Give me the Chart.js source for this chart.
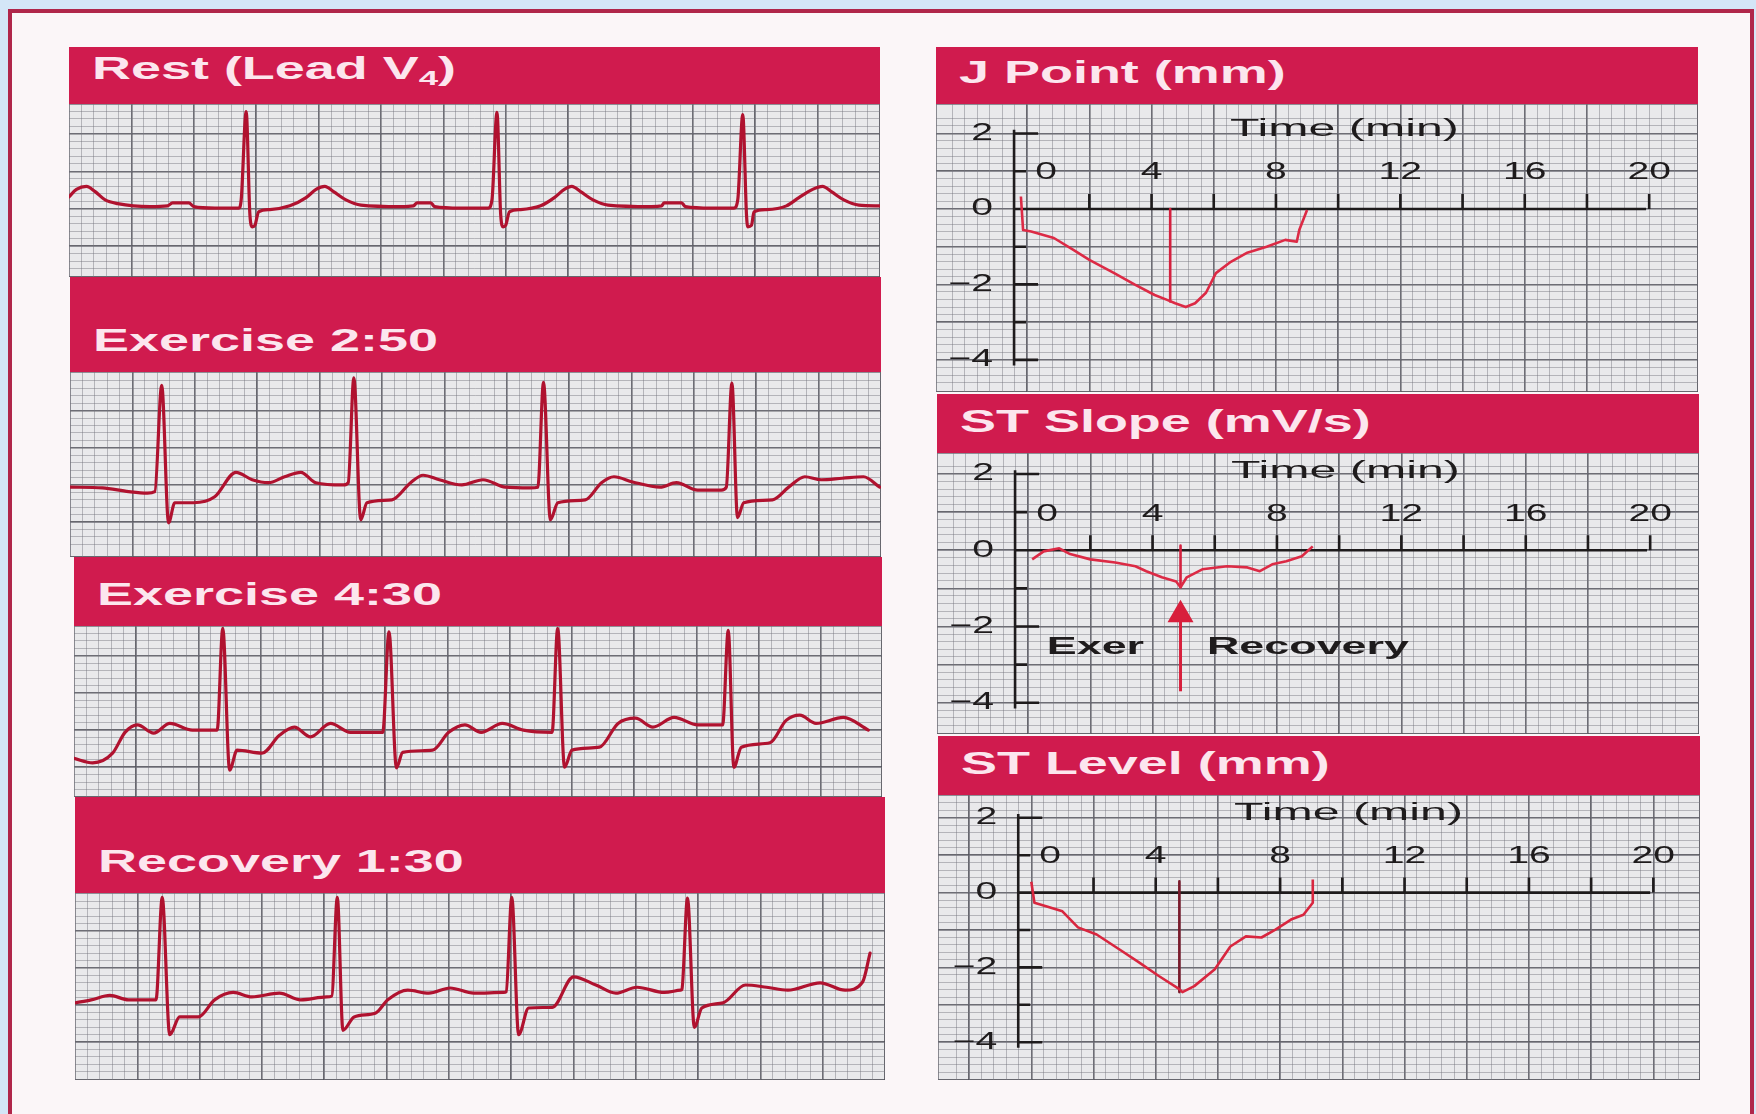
<!DOCTYPE html>
<html lang="en">
<head>
<meta charset="UTF-8" />
<title>Exercise ECG - J Point, ST Slope and ST Level</title>
<script src="https://cdn.jsdelivr.net/npm/chart.js"></script>
<style>
  html, body { margin: 0; width: 1756px; height: 1114px; overflow: hidden; background: #d4e6f7; font-family: "Liberation Sans", Arial, sans-serif; }
  #frame { position: absolute; left: 8px; top: 9px; width: 1746px; height: 1110px; box-sizing: border-box;
           background: #fbf6f8; border: 4px solid #b0264a; border-bottom: none; }
  .head { position: absolute; box-sizing: border-box; background: #d01b4e; color: #fce6ee; font-weight: bold;
          font-size: 31px; line-height: 1; padding: 0 0 16px 23px; display: flex; align-items: flex-end; overflow: hidden; }
  .head span { display: inline-block; white-space: nowrap; transform: scaleX(1.74); transform-origin: left bottom; }
  .head sub { font-size: 20px; vertical-align: -6px; }
  .paper { position: absolute; background: #e9e9eb; }
</style>
</head>
<body>
<div id="frame"></div>
<script>
// ---- ECG strips: x = mm of paper (25 mm/s), y = mm (10 mm/mV) ----
const restX = [0, 0.6, 1.4, 2.1, 2.9, 3.9, 6.5, 7.9, 8.3, 9.6, 10.0, 11.7, 13.6, 13.8, 14.2, 14.5, 14.7, 14.9, 15.2, 16.1, 17.7, 19.0, 19.8, 20.5, 21.2, 22.2, 23.4, 26.6, 27.6, 27.9, 29.0, 29.3, 31.4, 33.6, 33.9, 34.3, 34.6, 34.8, 35.0, 35.3, 36.2, 37.8, 38.9, 39.7, 40.3, 41.0, 42.0, 43.2, 46.7, 47.5, 47.7, 49.1, 49.4, 51.5, 53.3, 53.6, 54.0, 54.3, 54.4, 54.7, 54.9, 55.9, 57.5, 58.5, 59.6, 60.4, 61.1, 62.1, 63.3, 65.0];
const restY = [1.6, 2.6, 3.0, 2.3, 1.2, 0.7, 0.3, 0.4, 0.8, 0.8, 0.3, 0.1, 0.1, 1.2, 13.0, -0.8, -2.4, -2.2, -0.4, -0.1, 0.4, 1.5, 2.6, 3.0, 2.3, 1.2, 0.5, 0.3, 0.4, 0.8, 0.8, 0.3, 0.1, 0.1, 1.2, 12.9, -0.8, -2.4, -2.2, -0.4, -0.1, 0.4, 1.5, 2.6, 3.0, 2.3, 1.2, 0.5, 0.3, 0.4, 0.8, 0.8, 0.3, 0.1, 0.1, 1.2, 12.6, -0.8, -2.4, -2.2, -0.4, -0.1, 0.4, 1.5, 2.6, 3.0, 2.3, 1.2, 0.5, 0.4];

const ex250X = [0, 2.6, 4.7, 6.2, 6.8, 7.35, 7.9, 8.4, 9.9, 11.6, 13.3, 14.6, 15.9, 17.2, 18.5, 19.7, 21.9, 22.3, 22.75, 23.3, 23.8, 25.8, 27.3, 28.3, 29.6, 31.4, 33.1, 34.9, 36.9, 37.5, 37.95, 38.5, 39.1, 41.3, 42.6, 43.6, 45.1, 47.3, 48.6, 50.3, 52.2, 52.6, 53.05, 53.5, 54.0, 56.3, 57.6, 58.9, 60.2, 61.9, 63.6, 64.9];
const ex250Y = [-0.3, -0.4, -0.9, -1.1, -0.9, 13.4, -5.1, -2.4, -2.4, -1.6, 1.7, 0.7, 0.3, 1.1, 1.7, 0.3, 0, 0.3, 14.4, -4.7, -2.4, -2.0, 0.3, 1.3, 0.7, 0, 0.7, -0.3, -0.4, -0.3, 13.8, -4.7, -2.4, -2.0, 0.3, 1.1, 0.4, -0.3, 0.3, -0.7, -0.7, -0.3, 13.7, -4.4, -2.4, -2.0, -0.3, 1.1, 0.7, 0.9, 1.1, -0.3];

const ex430X = [0, 1.5, 3.1, 4.1, 5.1, 6.4, 7.7, 9.5, 11.5, 11.95, 12.5, 13.1, 15.1, 16.5, 17.7, 19.0, 20.6, 22.2, 24.8, 25.3, 25.9, 26.4, 28.8, 30.1, 31.4, 32.7, 34.4, 36.1, 38.4, 38.85, 39.4, 40.0, 42.2, 43.7, 45.1, 46.5, 48.2, 50.1, 52.1, 52.55, 53.0, 53.6, 55.9, 57.2, 58.3, 59.6, 61.8, 63.8];
const ex430Y = [-3.8, -4.4, -3.1, -0.3, 0.7, -0.4, 0.9, 0, 0, 13.7, -5.4, -2.7, -3.1, -0.7, 0.4, -0.9, 0.9, -0.3, -0.3, 13.2, -5.1, -3.0, -2.7, -0.3, 0.7, -0.3, 0.9, 0, -0.3, 13.7, -5.0, -2.7, -2.3, 0.9, 1.6, 0.4, 1.7, 0.7, 0.7, 13.4, -5.0, -2.3, -1.7, 1.3, 2.0, 0.9, 1.7, 0];

const rec130X = [0, 1.3, 2.8, 4.3, 6.5, 7.0, 7.6, 8.4, 9.9, 11.2, 12.7, 14.2, 16.4, 18.1, 20.2, 20.6, 21.05, 21.5, 22.4, 24.1, 25.1, 26.7, 28.4, 30.1, 32.0, 34.4, 34.6, 35.05, 35.6, 36.4, 38.3, 40.0, 41.8, 43.4, 45.1, 47.3, 48.6, 48.7, 49.15, 49.7, 50.3, 52.0, 53.8, 55.5, 57.2, 59.8, 61.8, 63.2, 63.8];
const rec130Y = [0.3, 0.7, 1.3, 0.7, 0.7, 14.5, -4.0, -1.6, -1.6, 0.7, 1.7, 1.1, 1.6, 0.7, 1.1, 1.2, 14.5, -3.4, -1.6, -1.1, 0.7, 2.0, 1.6, 2.3, 1.6, 1.7, 1.8, 14.5, -4.0, -0.4, -0.3, 3.8, 2.7, 1.6, 2.4, 1.7, 2.0, 2.1, 14.4, -3.0, -0.4, 0.3, 2.7, 2.4, 2.0, 3.0, 2.0, 3.1, 7.0];

// ---- trend plots: x = time (min) ----
const jTime  = [-0.2, -0.13, 0.13, 0.86, 1.5, 2.0, 2.8, 3.45, 4.1, 4.5, 4.76, 5.1, 5.4, 5.75, 6.07, 6.55, 7.05, 7.7, 8.3, 8.67, 8.75, 9.0];
const jMm    = [0.33, -0.56, -0.6, -0.77, -1.09, -1.35, -1.7, -2.0, -2.28, -2.41, -2.5, -2.6, -2.5, -2.22, -1.7, -1.4, -1.17, -1.0, -0.82, -0.87, -0.56, -0.03];
const jMarkT = [4.6, 4.6];
const jMarkV = [0, -2.45];

const slopeTime  = [0.13, 0.5, 1.0, 1.35, 2.0, 2.8, 3.45, 3.8, 4.3, 4.76, 4.9, 5.1, 5.6, 6.4, 7.05, 7.45, 7.85, 8.3, 8.8, 9.15];
const slopeMvS   = [-0.24, -0.03, 0.05, -0.1, -0.24, -0.32, -0.42, -0.55, -0.71, -0.82, -0.97, -0.71, -0.5, -0.42, -0.45, -0.55, -0.37, -0.29, -0.16, 0.1];
const slopeMarkT = [4.9, 4.9];
const slopeMarkV = [0.12, -0.97];
const arrowT = [4.9, 4.9];
const arrowV = [-3.7, -1.69];

const levelTime  = [0, 0.1, 0.5, 1.0, 1.5, 2.1, 2.8, 3.45, 4.1, 4.76, 4.86, 5.24, 5.9, 6.4, 6.9, 7.4, 7.85, 8.35, 8.75, 9.05, 9.05];
const levelMm    = [0.29, -0.27, -0.37, -0.5, -0.93, -1.12, -1.5, -1.86, -2.23, -2.58, -2.66, -2.5, -2.05, -1.44, -1.17, -1.2, -0.99, -0.72, -0.59, -0.27, 0.35];
const levelMarkT = [4.76, 4.76];
const levelMarkV = [0.3, -2.66];

const timeLabels  = [0, 4, 8, 12, 16, 20];
const timeMarks   = [2, 4, 6, 8, 10, 12, 14, 16, 18, 20];
const valueLabels = [2, 0, -2, -4];
const valueMarks  = [2, 1, -1, -2, -3, -4];

const zip = (xs, ys) => xs.map((x, i) => ({ x, y: ys[i] }));
const FONT = '"Liberation Sans", Arial, sans-serif';

function makePanel(title, left, top, width, headH, paperH) {
  const head = document.createElement('div');
  head.className = 'head';
  head.style.cssText = `left:${left}px;top:${top}px;width:${width}px;height:${headH}px`;
  head.innerHTML = `<span>${title}</span>`;
  document.body.appendChild(head);
  const paper = document.createElement('div');
  paper.className = 'paper';
  paper.style.cssText = `left:${left}px;top:${top + headH}px;width:${width}px;height:${paperH}px`;
  const canvas = document.createElement('canvas');
  paper.appendChild(canvas);
  document.body.appendChild(paper);
  return canvas;
}

// graph paper: major + minor grids from four linear scales
function paperScales(xMin, xMax, xStep, yMin, yMax, yStep) {
  const scale = (axis, min, max, step, major) => ({
    type: 'linear', axis, min, max, display: true, z: major ? -1 : -2,
    ticks: { display: false, stepSize: step, autoSkip: false },
    grid: { drawTicks: false, color: major ? 'rgba(80,80,88,0.85)' : 'rgba(115,115,125,0.45)', lineWidth: major ? 1.6 : 1 },
    border: { display: false }
  });
  return {
    x: scale('x', xMin, xMax, xStep, true),
    y: scale('y', yMin, yMax, yStep, true),
    xm: scale('x', xMin, xMax, xStep / 5, false),
    ym: scale('y', yMin, yMax, yStep / 5, false)
  };
}

function baseOptions(scales) {
  return {
    responsive: true, maintainAspectRatio: false, animation: false, devicePixelRatio: 1, events: [],
    layout: { padding: 0, autoPadding: false },
    plugins: { legend: { display: false }, tooltip: { enabled: false }, title: { display: false } },
    scales
  };
}

function stretchText(ctx, text, x, y, sx, align) {
  ctx.save();
  ctx.translate(x, y);
  ctx.scale(sx, 1);
  ctx.textAlign = align;
  ctx.fillText(text, 0, 0);
  ctx.restore();
}

const fmt = v => (v < 0 ? '\u2212' + (-v) : String(v));

// black axes drawn on the paper at value 0 / time -0.42
function axesPlugin(cfg) {
  return {
    id: 'paperAxes',
    beforeDatasetsDraw(chart) {
      const { ctx, scales: { x, y } } = chart;
      const ax = x.getPixelForValue(cfg.axisAt);
      const ay = y.getPixelForValue(0);
      ctx.save();
      ctx.strokeStyle = '#1e1b1c';
      ctx.lineWidth = 2.6;
      ctx.beginPath();
      ctx.moveTo(ax, y.getPixelForValue(cfg.top));
      ctx.lineTo(ax, y.getPixelForValue(cfg.bottom));
      ctx.moveTo(ax, ay);
      ctx.lineTo(x.getPixelForValue(cfg.end), ay);
      valueMarks.forEach(v => {
        const py = y.getPixelForValue(v);
        ctx.moveTo(ax, py);
        ctx.lineTo(ax + (v % 2 === 0 ? 24 : 12), py);
      });
      timeMarks.forEach(t => {
        const px = x.getPixelForValue(t);
        ctx.moveTo(px, ay);
        ctx.lineTo(px, ay - 15);
      });
      ctx.stroke();
      ctx.fillStyle = '#1e1b1c';
      ctx.textBaseline = 'middle';
      ctx.font = `23px ${FONT}`;
      valueLabels.forEach(v => stretchText(ctx, fmt(v), ax - 21, y.getPixelForValue(v), 1.7, 'right'));
      timeLabels.forEach(t => stretchText(ctx, String(t), Math.max(x.getPixelForValue(t), ax + 32), ay - 36, 1.7, 'center'));
      stretchText(ctx, 'Time (min)', x.getPixelForValue(10.2), ay - 79, 2.1, 'center');
      ctx.font = `bold 23px ${FONT}`;
      (cfg.notes || []).forEach(n => stretchText(ctx, n.text, x.getPixelForValue(n.x), y.getPixelForValue(n.y), 1.95, 'left'));
      ctx.restore();
    }
  };
}

// ---- ECG strips ----
const strips = [
  { title: 'Rest (Lead V<sub>4</sub>)', box: [69, 47, 811, 57, 173], xs: restX, ys: restY, x: 65, y: [-9.1, 14.0] },
  { title: 'Exercise 2:50', box: [70, 277, 811, 95, 185], xs: ex250X, ys: ex250Y, x: 65, y: [-9.7, 15.2] },
  { title: 'Exercise 4:30', box: [74, 557, 808, 69, 171], xs: ex430X, ys: ex430Y, x: 64.9, y: [-9.0, 14.0] },
  { title: 'Recovery 1:30', box: [75, 797, 810, 96, 187], xs: rec130X, ys: rec130Y, x: 65, y: [-10.1, 15.1] }
];

strips.forEach(s => {
  const canvas = makePanel(s.title, ...s.box);
  new Chart(canvas, {
    type: 'line',
    data: { datasets: [{
      data: zip(s.xs, s.ys), xAxisID: 'x', yAxisID: 'y',
      borderColor: '#b0122f', borderWidth: 3.2, pointRadius: 0, cubicInterpolationMode: 'monotone',
      borderJoinStyle: 'round', borderCapStyle: 'round'
    }] },
    options: baseOptions(paperScales(0, s.x, 5, s.y[0], s.y[1], 5))
  });
});

// ---- trend plots ----
const lineStyle = color => ({ borderColor: color, borderWidth: 2.6, pointRadius: 0, tension: 0, xAxisID: 'x', yAxisID: 'y', borderJoinStyle: 'round' });

const trends = [
  { title: 'J Point (mm)', box: [936, 47, 762, 57, 288], x: [-2.93, 21.57], y: [-4.85, 2.78],
    sets: [
      { data: zip(jTime, jMm), ...lineStyle('#dc2a45') },
      { data: zip(jMarkT, jMarkV), ...lineStyle('#d4203e') }
    ] },
  { title: 'ST Slope (mV/s)', box: [937, 394, 762, 59, 281], x: [-2.93, 21.57], y: [-4.82, 2.55],
    notes: [{ text: 'Exer', x: 0.6, y: -2.55 }, { text: 'Recovery', x: 5.75, y: -2.55 }],
    sets: [
      { data: zip(slopeTime, slopeMvS), ...lineStyle('#dc2a45') },
      { data: zip(slopeMarkT, slopeMarkV), ...lineStyle('#d4203e') },
      { data: zip(arrowT, arrowV), ...lineStyle('#d81f3c'), borderWidth: 3,
        pointRadius: [0, 12], pointStyle: 'triangle', pointBackgroundColor: '#d81f3c', pointBorderColor: '#d81f3c' }
    ] },
  { title: 'ST Level (mm)', box: [938, 736, 762, 59, 285], x: [-3.0, 21.5], y: [-5.01, 2.61],
    sets: [
      { data: zip(levelTime, levelMm), ...lineStyle('#d8263f') },
      { data: zip(levelMarkT, levelMarkV), ...lineStyle('#7a1a2b') }
    ] }
];

trends.forEach(t => {
  const canvas = makePanel(t.title, ...t.box);
  new Chart(canvas, {
    type: 'line',
    data: { datasets: t.sets },
    options: baseOptions(paperScales(t.x[0], t.x[1], 2, t.y[0], t.y[1], 1)),
    plugins: [axesPlugin({ axisAt: -0.42, top: 2.1, bottom: -4.15, end: 19.9, notes: t.notes })]
  });
});
</script>
</body>
</html>
